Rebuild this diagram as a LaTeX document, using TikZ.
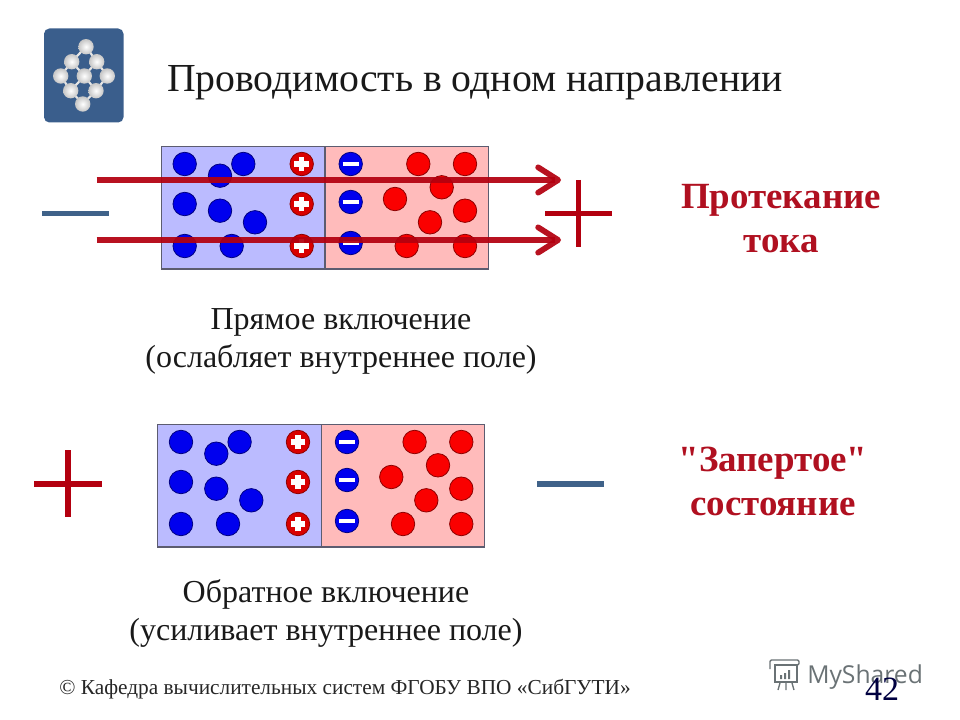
\documentclass[tikz,border=0pt]{standalone}
\usepackage{fontspec}
\setmainfont{Liberation Serif}
\newfontfamily\plainquote{Liberation Serif}
\newfontfamily\markfont{Open Sans}
\usetikzlibrary{arrows.meta}

\definecolor{bluefill}{HTML}{BBBBFF}
\definecolor{redfill}{HTML}{FFBBBB}
\definecolor{boxline}{HTML}{5C5C70}
\definecolor{blueball}{HTML}{0000EE}
\definecolor{redball}{HTML}{FA0000}
\definecolor{currentred}{HTML}{B3000F}
\definecolor{minusblue}{HTML}{3F6289}
\definecolor{iconblue}{HTML}{3A5E8C}
\definecolor{labelred}{HTML}{B01020}
\definecolor{markgray}{HTML}{6A7275}

\tikzset{
  bluedot/.style={circle,inner sep=0pt,minimum size=17.6pt,fill=blueball,draw=blue!50!black,line width=.6pt},
  reddot/.style={circle,inner sep=0pt,minimum size=17.6pt,fill=redball,draw=red!55!black,line width=.6pt},
  plusdot/.style={circle,inner sep=0pt,minimum size=17.6pt,fill=red!85!black,draw=red!55!black,line width=.6pt},
  minusdot/.style={circle,inner sep=0pt,minimum size=17.6pt,fill=blueball,draw=blue!50!black,line width=.6pt},
  plusbar/.style={white,line width=4pt},
  minusbar/.style={white,line width=3.4pt},
  current/.style={currentred,opacity=.93,line width=4.3pt,-{Straight Barb[length=15pt,width=19pt,round]}},
  polebar/.style={line width=3.8pt},
  atom/.style={circle,inner sep=0pt,minimum size=11.5pt,inner color=white,outer color=gray!45,draw=none},
  bond/.style={white!80!gray,line width=1.6pt},
  note/.style={font=\fontsize{24}{28.5}\selectfont,align=center,text=black!90},
  state/.style={font=\fontsize{27.7}{33}\selectfont\bfseries,align=center,text=labelred},
}

% one p-n block, drawn at the offset of the upper one
\newcommand{\pnblock}[3]{
  \begin{scope}[shift={(#1,#2)},name prefix=#3-]
    \fill[bluefill] (161.5,146.5) rectangle (325,269);
    \fill[redfill] (325,146.5) rectangle (488.5,269);
    \draw[boxline,line width=1pt] (161.5,146.5) rectangle (488.5,269);
    \draw[boxline,line width=1pt] (325,146.5) -- (325,269);
    \foreach \x/\y [count=\i] in {184.7/164,220/175.7,243.3/164,184.7/204,220/210.7,255/222.3,184.7/246,231.7/246}
      \node[bluedot] (n\i) at (\x,\y) {};
    \foreach \x/\y [count=\i] in {418.3/164,465/164,441.7/187.3,395/199,465/210.7,430/222.3,406.7/246,465/246}
      \node[reddot] (p\i) at (\x,\y) {};
    \foreach \y [count=\i] in {164,204,246} {
      \node[plusdot] (ion\i) at (301.7,\y) {};
      \draw[plusbar] ([xshift=-5.6pt]ion\i.center) -- ([xshift=5.6pt]ion\i.center);
      \draw[plusbar] ([yshift=-5.6pt]ion\i.center) -- ([yshift=5.6pt]ion\i.center);
    }
    \foreach \y [count=\i] in {164,202,243} {
      \node[minusdot] (hole\i) at (350.7,\y) {};
      \draw[minusbar] ([xshift=-6pt]hole\i.center) -- ([xshift=6pt]hole\i.center);
    }
  \end{scope}
}

\begin{document}
\begin{tikzpicture}[x=0.75pt,y=-0.75pt]
  \useasboundingbox (0,0) rectangle (960,720);

  % icon
  \fill[iconblue,rounded corners=4pt] (44,28.5) rectangle (123.5,122.5);
  \coordinate (a1) at (86,46.7);
  \coordinate (a2) at (71.7,61.7);
  \coordinate (a3) at (96.7,61.7);
  \coordinate (a4) at (60.7,76);
  \coordinate (a5) at (84.3,76);
  \coordinate (a6) at (107.3,76);
  \coordinate (a7) at (70.7,90.7);
  \coordinate (a8) at (96,90.7);
  \coordinate (a9) at (82.7,104);
  \foreach \s/\t in {a1/a2,a1/a3,a2/a4,a2/a5,a3/a5,a3/a6,a4/a7,a5/a7,a5/a8,a6/a8,a7/a9,a8/a9}
    \draw[bond] (\s) -- (\t);
  \foreach \i in {1,...,9}
    \node[atom] (ball\i) at (a\i) {};

  \node[anchor=base,font=\fontsize{29.8}{34}\selectfont,text=black!90] (title) at (475,91.5) {Проводимость в одном направлении};

  % upper block
  \pnblock{0}{0}{up}
  \coordinate (s1) at (96.7,180);
  \coordinate (e1) at (561,180);
  \coordinate (s2) at (96.7,240);
  \coordinate (e2) at (561,240);
  \draw[current] (s1) -- (e1);
  \draw[current] (s2) -- (e2);
  \coordinate (m1) at (42,213.7);
  \coordinate (m2) at (109.3,213.7);
  \draw[polebar,minusblue] (m1) -- (m2);
  \coordinate (c1) at (545,213.7);
  \coordinate (c2) at (612,213.7);
  \coordinate (c3) at (578.3,180);
  \coordinate (c4) at (578.3,247);
  \draw[polebar,currentred] (c1) -- (c2);
  \draw[polebar,currentred] (c3) -- (c4);
  \node[note] (forward) at (341,341) {Прямое включение\\(ослабляет внутреннее поле)};
  \node[state] (flow) at (781,218.5) {Протекание\\тока};

  % lower block
  \pnblock{-3.7}{278}{low}
  \coordinate (d1) at (34.3,484);
  \coordinate (d2) at (102,484);
  \coordinate (d3) at (68,450);
  \coordinate (d4) at (68,517);
  \draw[polebar,currentred] (d1) -- (d2);
  \draw[polebar,currentred] (d3) -- (d4);
  \coordinate (g1) at (537,484);
  \coordinate (g2) at (604.3,484);
  \draw[polebar,minusblue] (g1) -- (g2);
  \node[note] (reverse) at (326,613) {Обратное включение\\(усиливает внутреннее поле)};
  \node[state] (locked) at (773,481.5) {{\plainquote"}Запертое{\plainquote"}\\состояние};

  % footer
  \node[anchor=base,font=\fontsize{16}{18}\selectfont,text=black!85] (foot) at (345,694) {© Кафедра вычислительных систем ФГОБУ ВПО «СибГУТИ»};

  % watermark
  \draw[markgray,line width=1pt,rounded corners=1pt] (770,669) -- (770,660) -- (799,660) -- (799,665) -- (776,665);
  \draw[markgray,line width=1.2pt] (775,665) rectangle (797,682);
  \fill[markgray] (780,675) rectangle (782,679) (784,673) rectangle (786,679) (788,670) rectangle (790,679);
  \draw[markgray,line width=1pt] (780,683) -- (778,690) (786,683) -- (786,690) (792,683) -- (794,690);
  \node[anchor=base west,inner sep=0pt,font=\markfont\fontsize{18.5}{20}\selectfont,text=markgray] (mark) at (807,683) {MyShared};
  \node[anchor=base,font=\fontsize{25.5}{30}\selectfont,text=blue!25!black] (page) at (882,700) {42};
\end{tikzpicture}
\end{document}
